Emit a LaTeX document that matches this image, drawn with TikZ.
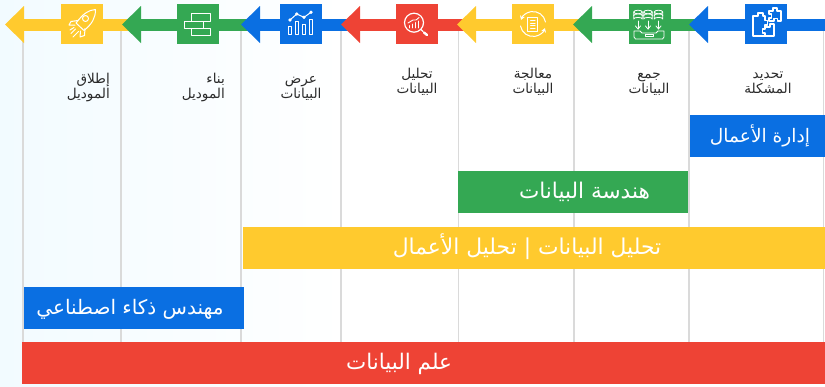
\documentclass[tikz,border=0pt]{standalone}
\usepackage{fontspec}
\usetikzlibrary{arrows.meta}
\TeXXeTstate=1
\newfontfamily\arabicfont[Script=Arabic]{DejaVu Sans}
\definecolor{cblue}{HTML}{0A6FE2}
\definecolor{cgreen}{HTML}{34A853}
\definecolor{cyellow}{HTML}{FFCA2E}
\definecolor{cred}{HTML}{EE4335}
\definecolor{cgrid}{HTML}{DADADA}
\definecolor{ctext}{HTML}{2B2B2B}
\definecolor{cpale}{HTML}{F2FBFF}
\tikzset{
  x=1pt,y=-1pt,
  gridline/.style={draw=cgrid,line width=1.5pt},
  iconbox/.style={minimum width=42pt,minimum height=40pt,inner sep=0pt,outer sep=0pt},
  ico/.style={draw=white,line width=1pt,line join=round,line cap=round,fill=none},
  steplabel/.style={text=ctext,font=\arabicfont\fontsize{13.6}{15}\selectfont,inner sep=0pt,anchor=base},
  bandbox/.style={anchor=north west,inner sep=0pt,outer sep=0pt},
  bandtext/.style={text=white,inner sep=0pt,anchor=base},
}
% colour, tip x, shaft end x, box centre x, node name
\newcommand{\chainseg}[5]{%
  \fill[#1] (#2+18,19) rectangle (#3,31);
  \fill[#1] (#2,24.5) -- (#2+19,6) -- (#2+19,43) -- cycle;
  \node[iconbox,fill=#1] (#5) at (#4,24) {};
}
\newcommand{\band}[8]{% name colour x y w text textcentre fontsize
  \node[bandbox,fill=#2,minimum width=#5pt,minimum height=42pt] (#1) at (#3,#4) {};
  \node[bandtext,font=\arabicfont\fontsize{#8}{22}\selectfont] (#1t) at (#7,#4+27.5) {#6};
}
\begin{document}
\begin{tikzpicture}
\useasboundingbox (0,0) rectangle (825,386);
\shade[left color=cpale,right color=white] (0,0) rectangle (345,386);
\foreach \gx in {23,121,241,341,458.5,574,689,823.5}
  \draw[gridline] (\gx,24) -- (\gx,343);

\chainseg{cyellow}{5}{130}{82}{sA}
\chainseg{cgreen}{122}{249}{198}{sB}
\chainseg{cblue}{241}{349}{301}{sC}
\chainseg{cred}{341}{465}{417}{sD}
\chainseg{cyellow}{457}{581}{533}{sE}
\chainseg{cgreen}{573}{697}{650}{sF}
\chainseg{cblue}{689}{825}{766}{sG}

% rocket
\begin{scope}[shift={(sA.center)},ico]
  \draw (13.5,-14.5) .. controls (6,-14) and (1,-10) .. (-6,-1) -- (2,6.5) .. controls (10,0) and (13.5,-6) .. (13.5,-14.5);
  \draw (3.5,-5.5) circle (3);
  \draw (-4,-3.5) -- (-11,-2.5) -- (-13,1) -- (-7,1);
  \draw (3,4.5) -- (2.5,11.5) -- (-2,13) -- (-1.5,7);
  \draw (-6.5,5) -- (-11,9.5) (-3.5,7.5) -- (-9,13) (-8,3.5) -- (-12,6);
\end{scope}
% bricks
\begin{scope}[shift={(sB.center)},ico]
  \draw (-6.7,-11) rectangle (12.7,-3);
  \draw (-13.7,-3) rectangle (5.7,4);
  \draw (-6.7,4) rectangle (12.7,11.6);
\end{scope}
% chart
\begin{scope}[shift={(sC.center)},ico]
  \draw (-12.7,2.7) rectangle (-9.3,10);
  \draw (-6,-2.3) rectangle (-2.7,10);
  \draw (1.3,0) rectangle (4.7,10);
  \draw (8,-4.7) rectangle (11.3,10);
  \draw (-11,-4) -- (-4.3,-10) -- (3,-6.7) -- (10,-11.7);
  \foreach \p in {(-11,-4),(-4.3,-10),(3,-6.7),(10,-11.7)}
    \filldraw[draw=white,fill=white] \p circle (1.2);
\end{scope}
% magnifier
\begin{scope}[shift={(sD.center)},ico]
  \draw[line width=1.2pt] (-3,-1.3) circle (9.5);
  \draw[line width=1.2pt] (4,5.5) -- (6,7.5);
  \draw[line width=2.4pt] (7,8.5) -- (10,11);
  \draw[line width=.9pt] (-8,4) -- (-8,1.5) (-5,4) -- (-5,0) (-2,4) -- (-2,-1.5) (1,4) -- (1,-3);
  \draw[line width=.9pt] (-9,-1) -- (-4,-4) -- (-1,-4) -- (2,-6.5);
\end{scope}
% cycle and document
\begin{scope}[shift={(sE.center)},ico]
  \draw[-{Stealth[length=4pt,width=5pt]}] (-12.5,2) arc[start angle=170,end angle=20,radius=12.7];
  \draw[-{Stealth[length=4pt,width=5pt]}] (12.5,-2) arc[start angle=-10,end angle=-160,radius=12.7];
  \draw (-5.3,-6.7) rectangle (4.7,7.7);
  \draw (-2.5,-3.5) -- (2,-3.5) (-2.5,-1) -- (2,-1) (-2.5,1.5) -- (2,1.5) (-2.5,4.3) -- (2,4.3);
\end{scope}
% databases
\begin{scope}[shift={(sF.center)},ico,line width=.8pt]
  \foreach \cx in {-12,-2,8.5}{
    \draw (\cx-4.3,-12) -- (\cx-4.3,-5) arc[start angle=180,end angle=360,x radius=4.3,y radius=1.6] -- (\cx+4.3,-12);
    \draw (\cx,-12) ellipse (4.3 and 1.8);
    \draw (\cx-4.3,-8.5) arc[start angle=180,end angle=360,x radius=4.3,y radius=1.6];
    \draw (\cx,-3) -- (\cx,5);
    \draw (\cx-2.5,2) -- (\cx,5) -- (\cx+2.5,2);
  }
  \draw (-16,7) -- (-16,13) -- (-14.5,15) -- (12.5,15) -- (14,13) -- (14,7) -- (8,7) -- (6,9) -- (-8,9) -- (-10,7) -- cycle;
  \draw (-5,10.5) rectangle (3,12.5);
\end{scope}
% puzzle
\begin{scope}[shift={(sG.center)},ico,line width=1.1pt]
  \draw (3,-13) -- (7,-13) -- (7,-16) -- (11,-16) -- (11,-13) -- (15,-13) -- (15,-3) -- (11.5,-3) -- (11.5,-5.5) -- (8,-5.5) -- (8,-3) -- (3,-3) -- (3,-6) -- (5.5,-6) -- (5.5,-10) -- (3,-10) -- cycle;
  \draw (-13,-8) -- (-8,-8) -- (-8,-11) -- (-3,-11) -- (-3,-8) -- (-1,-8) -- (-1,-3.5) -- (1.5,-3.5) -- (1.5,1) -- (-1,1) -- (-1,5) -- (-3.5,5) -- (-3.5,9) -- (-1,9) -- (-1,12) -- (-13,12) -- cycle;
  \draw (-1,12) -- (8,12) -- (8,0) -- (4,0) -- (4,3) -- (-1,3);
\end{scope}

% step labels
\node[steplabel,anchor=base east] (l1a) at (110,83) {\beginR إطلاق\endR};
\node[steplabel,anchor=base east] (l1b) at (110,98) {\beginR الموديل\endR};
\node[steplabel,anchor=base east] (l2a) at (225,83) {\beginR بناء\endR};
\node[steplabel,anchor=base east] (l2b) at (225,98) {\beginR الموديل\endR};
\node[steplabel] (l3a) at (301,83) {\beginR عرض\endR};
\node[steplabel] (l3b) at (301,98) {\beginR البيانات\endR};
\node[steplabel] (l4a) at (417,78) {\beginR تحليل\endR};
\node[steplabel] (l4b) at (417,93) {\beginR البيانات\endR};
\node[steplabel] (l5a) at (533,78) {\beginR معالجة\endR};
\node[steplabel] (l5b) at (533,93) {\beginR البيانات\endR};
\node[steplabel] (l6a) at (649,78) {\beginR جمع\endR};
\node[steplabel] (l6b) at (649,93) {\beginR البيانات\endR};
\node[steplabel] (l7a) at (768,78) {\beginR تحديد\endR};
\node[steplabel] (l7b) at (768,93) {\beginR المشكلة\endR};

% bands
\band{bandA}{cblue}{690}{115}{135}{\beginR إدارة الأعمال\endR}{760}{18.6}
\band{bandB}{cgreen}{458}{171}{230}{\beginR هندسة البيانات\endR}{584.5}{21.6}
\band{bandC}{cyellow}{243}{227}{582}{\beginR تحليل البيانات | تحليل الأعمال\endR}{527}{21.8}
\band{bandD}{cblue}{24}{287}{220}{\beginR مهندس ذكاء اصطناعي\endR}{130}{20}
\band{bandE}{cred}{22}{342}{803}{\beginR علم البيانات\endR}{399}{21.5}
\end{tikzpicture}
\end{document}
